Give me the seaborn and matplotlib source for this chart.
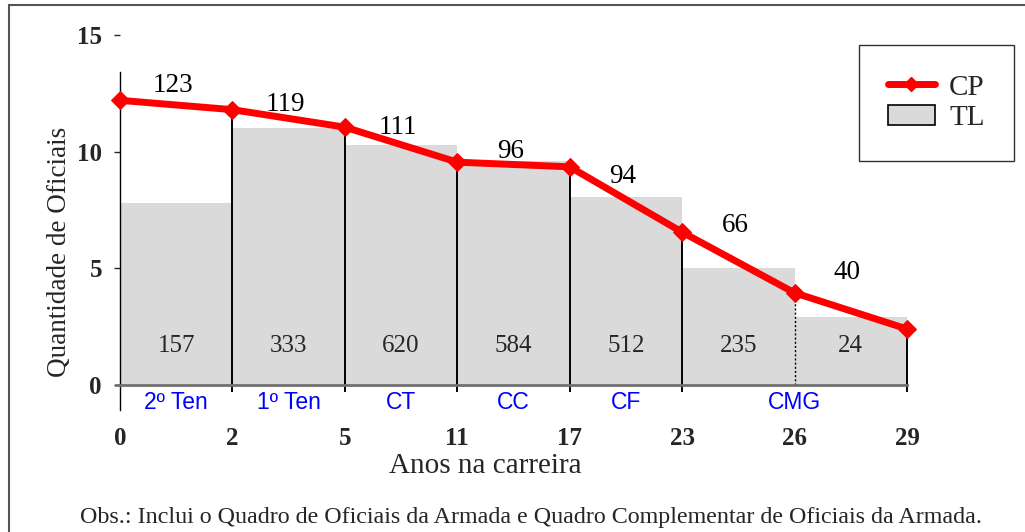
import numpy as np
import pandas as pd
import matplotlib.pyplot as plt
import seaborn as sns
from matplotlib.lines import Line2D
from matplotlib.patches import Patch, Rectangle

# dados
anos = ["0", "2", "5", "11", "17", "23", "26", "29"]
cp_altura = [12.2, 11.8, 11.05, 9.55, 9.35, 6.55, 3.95, 2.4]
cp_rotulos = ["123", "119", "111", "96", "94", "66", "40"]
tl_altura = [7.8, 11.0, 10.3, 9.6, 8.05, 5.0, 2.9]
tl_rotulos = ["157", "333", "620", "584", "512", "235", "24"]
postos = ["2º Ten", "1º Ten", "CT", "CC", "CF", "CMG"]
postos_pos = [0.5, 1.5, 2.5, 3.5, 4.5, 6.0]

sns.set_style("white")
plt.rcParams['font.family'] = ['Liberation Serif', 'DejaVu Sans']

fig = plt.figure(figsize=(10.25, 5.32), dpi=100)
ax = fig.add_axes([120 / 1025, 147 / 532, 787 / 1025, 350 / 532])

pos = np.arange(len(anos))

# barras TL entre anos consecutivos
df_tl = pd.DataFrame({"pos": pos[:-1] + 0.5, "tl": tl_altura})
sns.barplot(data=df_tl, x="pos", y="tl", native_scale=True, width=1,
            color="#dadada", saturation=1, errorbar=None, ax=ax,
            edgecolor="none", linewidth=0)

# linhas verticais
for i in pos:
    if i == 0:
        continue
    if i == 6:
        ax.vlines(i, 0, cp_altura[i], color="black", lw=1, ls=(0, (1.5, 1.5)))
    else:
        ax.vlines(i, -0.3, cp_altura[i], color="black", lw=1.4, clip_on=False)

# linha CP
df_cp = pd.DataFrame({"pos": pos, "cp": cp_altura})
sns.lineplot(data=df_cp, x="pos", y="cp", color="red", lw=5, marker="D",
             markersize=9, markeredgecolor="red", clip_on=False, ax=ax, zorder=5)

# rotulos sobre a linha
desloc = [0.85, 0.6, 0.75, 0.55, 1.0, 1.6, 1.65]
for i, txt in enumerate(cp_rotulos):
    meio = (cp_altura[i] + cp_altura[i + 1]) / 2
    ax.text(i + 0.47, meio + desloc[i], txt, ha="center", va="center",
            fontsize=19.5, color="black")

# rotulos dentro das barras
for i, txt in enumerate(tl_rotulos):
    ax.text(i + 0.5, 1.65, txt, ha="center", va="center", fontsize=18)

# postos em azul
for p, txt in zip(postos_pos, postos):
    ax.text(p, -0.73, txt, ha="center", va="center", fontsize=16.5,
            color="blue", family=["Liberation Sans", "DejaVu Sans"], clip_on=False)

ax.set_xlim(0, 7)
ax.set_ylim(0, 15)
ax.set_xticks(pos)
ax.set_xticklabels(anos, fontsize=18, fontweight="bold")
ax.set_yticks([0, 5, 10, 15])
ax.set_yticklabels(["0", "5", "10", "15"], fontsize=18, fontweight="bold")
ax.tick_params(axis="x", length=0, pad=30)
ax.tick_params(axis="y", length=4, width=1, pad=9, direction="out", left=True)
ax.set_xlabel("")
ax.set_ylabel("")

for s in ["top", "right"]:
    ax.spines[s].set_visible(False)
ax.spines["left"].set_bounds(-1.07, 13.4)
ax.spines["left"].set_color("black")
ax.spines["left"].set_linewidth(1)
ax.spines["bottom"].set_bounds(-0.04, 7)
ax.spines["bottom"].set_color("#707070")
ax.spines["bottom"].set_linewidth(2)

fig.text(485 / 1025, 1 - 466 / 532, "Anos na carreira", ha="center", va="center", fontsize=21)
fig.text(60 / 1025, 1 - 252 / 532, "Quantidade de Oficiais", ha="center", va="center",
         rotation=90, fontsize=19.5)
fig.text(531 / 1025, 1 - 517 / 532,
         "Obs.: Inclui o Quadro de Oficiais da Armada e Quadro Complementar de Oficiais da Armada.",
         ha="center", va="center", fontsize=17.3)

# legenda
handles = [Line2D([], [], color="red", lw=5, marker="D", markersize=7),
           Patch(facecolor="#dadada", edgecolor="black", lw=1.2)]
leg = fig.legend(handles, ["CP", "TL"], loc="upper right",
                 bbox_to_anchor=(1014 / 1025, 1 - 45 / 532), fontsize=21,
                 frameon=True, fancybox=False, shadow=False, borderpad=1.0,
                 labelspacing=0.15, handlelength=1.6, handletextpad=0.5,
                 borderaxespad=0)
leg.get_frame().set_edgecolor("black")
leg.get_frame().set_linewidth(1)

# moldura da figura
fig.patches.append(Rectangle((9 / 1025, -0.2), 1.2, 1 - 5 / 532 + 0.2, fill=False,
                             edgecolor="#555555", lw=1.5, transform=fig.transFigure))

fig.savefig("out.png", dpi=100)
